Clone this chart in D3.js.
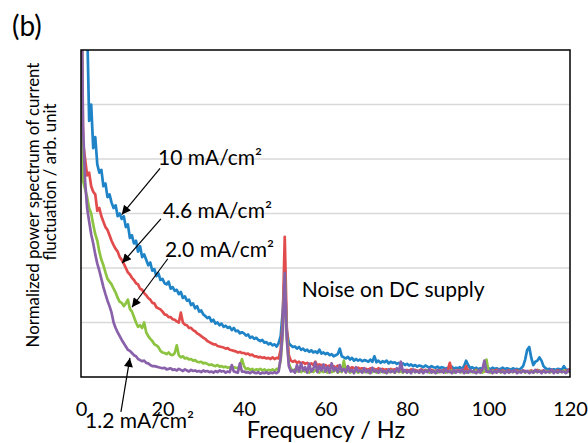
<!DOCTYPE html>
<html>
<head>
<meta charset="utf-8">
<script src="https://cdn.jsdelivr.net/npm/d3@7/dist/d3.min.js"></script>
<style>
  body { margin: 0; background: #fff; }
  text { font-family: Lato, "Open Sans", sans-serif; fill: #000; }
</style>
</head>
<body>
<div id="chart"></div>
<script>
// frequency bins, 0.5 Hz step from 0 to 120 Hz
const freqs = d3.range(0, 120.25, 0.5);
const xTicks = [0, 20, 40, 60, 80, 100, 120];

// 10 mA/cm2
const p10 = [
  9, 8, 7.5, 6.5, 4.7, 5.0, 4.2, 4.4, 3.9, 3.75, 3.8, 3.5, 3.55, 3.3, 3.35, 3.2, 3.1, 3.15, 2.95, 3.0,
  2.9, 2.95, 2.75, 2.8, 2.55, 2.6, 2.45, 2.5, 2.3, 2.4, 2.2, 2.25, 2.15, 2.05, 2.1, 1.95, 1.98, 1.85, 1.9, 1.78,
  1.8, 1.72, 1.7, 1.75, 1.62, 1.65, 1.58, 1.6, 1.52, 1.56, 1.45, 1.48, 1.4, 1.42, 1.32, 1.35, 1.26, 1.3, 1.2, 1.22,
  1.15, 1.12, 1.08, 1.1, 1.02, 1.05, 0.98, 1.0, 0.95, 0.98, 0.92, 0.94, 0.9, 0.92, 0.86, 0.9, 0.84, 0.85, 0.8, 0.82,
  0.8, 0.76, 0.78, 0.72, 0.74, 0.7, 0.72, 0.68, 0.66, 0.68, 0.63, 0.64, 0.6, 0.62, 0.58, 0.6, 0.56, 0.62, 0.75, 1.2,
  1.85, 0.85, 0.62, 0.58, 0.55, 0.56, 0.52, 0.55, 0.5, 0.52, 0.48, 0.5, 0.46, 0.49, 0.45, 0.47, 0.44, 0.5, 0.43, 0.45,
  0.42, 0.44, 0.4, 0.42, 0.38, 0.4, 0.42, 0.52, 0.38, 0.36, 0.34, 0.37, 0.32, 0.35, 0.3, 0.33, 0.3, 0.32, 0.29, 0.31,
  0.3, 0.28, 0.32, 0.28, 0.38, 0.27, 0.3, 0.26, 0.29, 0.27, 0.3, 0.25, 0.28, 0.26, 0.27, 0.24, 0.26, 0.23, 0.25, 0.22,
  0.24, 0.21, 0.23, 0.2, 0.22, 0.19, 0.21, 0.2, 0.18, 0.21, 0.19, 0.17, 0.2, 0.18, 0.17, 0.19, 0.16, 0.18, 0.17, 0.15,
  0.17, 0.16, 0.19, 0.15, 0.17, 0.16, 0.18, 0.15, 0.2, 0.3, 0.22, 0.16, 0.18, 0.15, 0.17, 0.14, 0.16, 0.15, 0.22, 0.15,
  0.16, 0.14, 0.17, 0.15, 0.16, 0.14, 0.15, 0.17, 0.14, 0.16, 0.15, 0.13, 0.16, 0.14, 0.15, 0.13, 0.16, 0.2, 0.32, 0.5,
  0.55, 0.35, 0.22, 0.28, 0.3, 0.36, 0.3, 0.2, 0.16, 0.14, 0.15, 0.13, 0.14, 0.13, 0.15, 0.14, 0.13, 0.2, 0.14, 0.13, 0.14
];

// 4.6 mA/cm2
const p46 = [
  8, 4.3, 4.0, 3.7, 3.75, 3.5, 3.4, 3.35, 3.05, 3.1, 2.95, 2.85, 2.75, 2.7, 2.6, 2.5, 2.42, 2.35, 2.3, 2.2,
  2.15, 2.08, 2.0, 1.92, 1.88, 1.82, 1.78, 1.72, 1.7, 1.62, 1.6, 1.54, 1.5, 1.45, 1.42, 1.36, 1.35, 1.28, 1.26, 1.24,
  1.2, 1.15, 1.14, 1.1, 1.1, 1.06, 1.05, 1.02, 1.0, 1.18, 1.0, 0.96, 0.95, 0.9, 0.9, 0.86, 0.84, 0.8, 0.78, 0.75,
  0.72, 0.7, 0.66, 0.64, 0.62, 0.6, 0.6, 0.57, 0.56, 0.55, 0.54, 0.52, 0.53, 0.5, 0.49, 0.48, 0.47, 0.45, 0.46, 0.44,
  0.44, 0.42, 0.43, 0.4, 0.41, 0.38, 0.38, 0.36, 0.37, 0.35, 0.36, 0.34, 0.35, 0.33, 0.36, 0.33, 0.35, 0.34, 0.5, 1.0,
  2.57, 0.9, 0.4, 0.3, 0.28, 0.3, 0.26, 0.28, 0.25, 0.27, 0.24, 0.26, 0.23, 0.25, 0.22, 0.28, 0.21, 0.23, 0.22, 0.2,
  0.22, 0.19, 0.21, 0.18, 0.2, 0.17, 0.21, 0.18, 0.17, 0.2, 0.16, 0.19, 0.15, 0.18, 0.16, 0.14, 0.17, 0.15, 0.16, 0.14,
  0.15, 0.13, 0.16, 0.14, 0.15, 0.13, 0.16, 0.12, 0.15, 0.13, 0.14, 0.12, 0.15, 0.13, 0.14, 0.12, 0.14, 0.12, 0.13, 0.11,
  0.13, 0.11, 0.14, 0.12, 0.13, 0.11, 0.12, 0.14, 0.11, 0.13, 0.12, 0.1, 0.13, 0.11, 0.12, 0.1, 0.12, 0.11, 0.13, 0.1,
  0.12, 0.26, 0.11, 0.12, 0.1, 0.13, 0.11, 0.12, 0.1, 0.2, 0.11, 0.12, 0.1, 0.11, 0.13, 0.1, 0.12, 0.11, 0.1, 0.12,
  0.11, 0.1, 0.12, 0.11, 0.13, 0.1, 0.11, 0.12, 0.1, 0.11, 0.12, 0.1, 0.11, 0.1, 0.12, 0.11, 0.1, 0.12, 0.11, 0.1,
  0.11, 0.12, 0.1, 0.11, 0.13, 0.1, 0.11, 0.12, 0.1, 0.11, 0.1, 0.12, 0.11, 0.1, 0.12, 0.11, 0.1, 0.11, 0.12, 0.1, 0.15
];

// 2.0 mA/cm2
const p20 = [
  8, 3.6, 3.45, 3.3, 3.1, 3.0, 2.8, 2.62, 2.5, 2.3, 2.15, 2.05, 1.92, 1.8, 1.75, 1.7, 1.62, 1.55, 1.45, 1.38,
  1.36, 1.3, 1.35, 1.42, 1.25, 1.2, 1.1, 1.0, 0.92, 0.95, 0.9, 1.0, 0.82, 0.75, 0.7, 0.66, 0.6, 0.58, 0.55, 0.48,
  0.45, 0.44, 0.42, 0.45, 0.41, 0.4, 0.44, 0.58, 0.4, 0.36, 0.38, 0.34, 0.35, 0.32, 0.33, 0.3, 0.31, 0.28, 0.27, 0.28,
  0.25, 0.26, 0.24, 0.22, 0.23, 0.21, 0.2, 0.22, 0.19, 0.2, 0.18, 0.19, 0.17, 0.18, 0.16, 0.18, 0.17, 0.16, 0.2, 0.33,
  0.2, 0.14, 0.16, 0.13, 0.15, 0.12, 0.14, 0.13, 0.15, 0.12, 0.14, 0.11, 0.13, 0.12, 0.14, 0.11, 0.15, 0.14, 0.3, 0.8,
  1.9, 0.75, 0.25, 0.15, 0.12, 0.14, 0.1, 0.13, 0.09, 0.12, 0.1, 0.14, 0.08, 0.11, 0.09, 0.13, 0.1, 0.08, 0.12, 0.09,
  0.11, 0.08, 0.12, 0.09, 0.1, 0.14, 0.08, 0.11, 0.09, 0.3, 0.1, 0.12, 0.08, 0.1, 0.09, 0.11, 0.08, 0.1, 0.12, 0.09,
  0.1, 0.08, 0.11, 0.09, 0.12, 0.08, 0.1, 0.09, 0.11, 0.08, 0.1, 0.09, 0.12, 0.1, 0.08, 0.11, 0.09, 0.1, 0.08, 0.11,
  0.09, 0.1, 0.08, 0.12, 0.09, 0.1, 0.08, 0.11, 0.09, 0.1, 0.12, 0.08, 0.1, 0.09, 0.11, 0.08, 0.1, 0.09, 0.11, 0.08,
  0.1, 0.09, 0.12, 0.08, 0.1, 0.11, 0.09, 0.09, 0.1, 0.08, 0.11, 0.09, 0.1, 0.08, 0.12, 0.09, 0.1, 0.08, 0.11, 0.32,
  0.1, 0.08, 0.11, 0.09, 0.1, 0.12, 0.08, 0.1, 0.09, 0.11, 0.08, 0.1, 0.09, 0.12, 0.08, 0.1, 0.09, 0.11, 0.08, 0.1,
  0.09, 0.11, 0.08, 0.1, 0.09, 0.12, 0.08, 0.1, 0.09, 0.11, 0.08, 0.1, 0.09, 0.11, 0.08, 0.1, 0.09, 0.12, 0.08, 0.1, 0.09
];

// 1.2 mA/cm2
const p12 = [
  8, 4.6, 3.6, 3.1, 2.85, 2.62, 2.45, 2.25, 2.08, 1.95, 1.8, 1.65, 1.52, 1.4, 1.3, 1.18, 1.0, 0.9, 0.82, 0.75,
  0.68, 0.62, 0.56, 0.5, 0.48, 0.44, 0.4, 0.38, 0.33, 0.31, 0.29, 0.3, 0.26, 0.25, 0.22, 0.2, 0.2, 0.19, 0.18, 0.17,
  0.16, 0.17, 0.14, 0.15, 0.16, 0.13, 0.14, 0.12, 0.15, 0.13, 0.11, 0.14, 0.12, 0.1, 0.13, 0.11, 0.12, 0.1, 0.11, 0.09,
  0.12, 0.1, 0.11, 0.09, 0.1, 0.08, 0.11, 0.09, 0.12, 0.1, 0.11, 0.08, 0.1, 0.09, 0.22, 0.1, 0.09, 0.08, 0.25, 0.1,
  0.1, 0.08, 0.09, 0.07, 0.1, 0.08, 0.07, 0.09, 0.06, 0.08, 0.07, 0.09, 0.06, 0.08, 0.07, 0.09, 0.07, 0.1, 0.35, 0.85,
  1.91, 0.7, 0.2, 0.1, 0.12, 0.08, 0.22, 0.1, 0.25, 0.12, 0.18, 0.08, 0.24, 0.1, 0.15, 0.27, 0.09, 0.2, 0.12, 0.23,
  0.1, 0.19, 0.08, 0.25, 0.12, 0.17, 0.09, 0.22, 0.11, 0.15, 0.08, 0.2, 0.1, 0.13, 0.07, 0.18, 0.1, 0.12, 0.08, 0.16,
  0.09, 0.13, 0.07, 0.17, 0.1, 0.12, 0.08, 0.15, 0.09, 0.11, 0.07, 0.14, 0.09, 0.12, 0.08, 0.16, 0.1, 0.28, 0.09, 0.13,
  0.08, 0.12, 0.07, 0.14, 0.09, 0.11, 0.08, 0.13, 0.07, 0.12, 0.09, 0.15, 0.08, 0.11, 0.07, 0.13, 0.09, 0.12, 0.08, 0.14,
  0.09, 0.11, 0.07, 0.13, 0.08, 0.12, 0.09, 0.14, 0.07, 0.11, 0.08, 0.13, 0.09, 0.1, 0.07, 0.12, 0.08, 0.14, 0.3, 0.1,
  0.09, 0.12, 0.07, 0.11, 0.08, 0.13, 0.09, 0.1, 0.07, 0.12, 0.08, 0.11, 0.09, 0.13, 0.07, 0.1, 0.08, 0.12, 0.09, 0.11,
  0.07, 0.1, 0.08, 0.13, 0.09, 0.11, 0.07, 0.12, 0.08, 0.1, 0.09, 0.14, 0.07, 0.11, 0.08, 0.12, 0.09, 0.1, 0.07, 0.11, 0.1
];

const seriesNames = ["10 mA/cm²", "4.6 mA/cm²", "2.0 mA/cm²", "1.2 mA/cm²"];
const seriesColors = ["#1f83c7", "#e24b4b", "#8cc441", "#8961aa"];
const seriesValues = [p10, p46, p20, p12];

// annotation: label position and arrow (start -> tip) in data units
const labelPos = [[18.9, 3.89], [20.1, 2.92], [20.6, 2.2], [1.0, -0.94]];
const arrowFrom = [[19.4, 3.83], [19.6, 2.9], [21.3, 2.17], [9.8, -0.64]];
const arrowTo = [[10.0, 2.98], [10.1, 2.09], [12.5, 1.28], [12.0, 0.35]];

const W = 588, H = 443;
const m = { left: 81, right: 18, top: 50, bottom: 66 };

const svg = d3.select("#chart").append("svg")
  .attr("width", W).attr("height", H);

const x = d3.scaleLinear().domain([0, 120]).range([m.left, W - m.right]);
const y = d3.scaleLinear().domain([0, 6]).range([H - m.bottom, m.top]);

svg.append("defs").append("clipPath").attr("id", "plotclip")
  .append("rect")
  .attr("x", x(0)).attr("y", y(6))
  .attr("width", x(120) - x(0)).attr("height", y(0) - y(6));

svg.select("defs").append("marker")
  .attr("id", "arrowhead")
  .attr("viewBox", "0 0 10 10")
  .attr("refX", 10).attr("refY", 5)
  .attr("markerWidth", 11).attr("markerHeight", 9)
  .attr("markerUnits", "userSpaceOnUse")
  .attr("orient", "auto")
  .append("path").attr("d", "M0,0 L10,5 L0,10 z").attr("fill", "#000");

// gridlines
svg.append("g").selectAll("line")
  .data([1, 2, 3, 4, 5])
  .join("line")
  .attr("x1", x(0)).attr("x2", x(120))
  .attr("y1", d => y(d)).attr("y2", d => y(d))
  .attr("stroke", "#d9d9d9").attr("stroke-width", 1.5);

// series
const line = d3.line()
  .x((d, i) => x(freqs[i]))
  .y(d => y(d));

svg.append("g").attr("clip-path", "url(#plotclip)")
  .selectAll("path")
  .data(seriesValues)
  .join("path")
  .attr("d", d => line(d))
  .attr("fill", "none")
  .attr("stroke", (d, i) => seriesColors[i])
  .attr("stroke-width", 2.7)
  .attr("stroke-linejoin", "round");

// frame
svg.append("rect")
  .attr("x", x(0)).attr("y", y(6))
  .attr("width", x(120) - x(0)).attr("height", y(0) - y(6))
  .attr("fill", "none").attr("stroke", "#000").attr("stroke-width", 1.5);

// x axis labels
const xAxis = svg.append("g")
  .attr("transform", `translate(0,${y(0)})`)
  .call(d3.axisBottom(x).tickValues(xTicks).tickSize(0).tickFormat(d3.format("d")));
xAxis.select(".domain").remove();
xAxis.selectAll("text")
  .attr("y", 39).attr("dy", 0)
  .style("font-family", "Lato, sans-serif")
  .style("font-size", "20px")
  .attr("fill", "#000");

svg.append("text")
  .attr("x", 326).attr("y", 438)
  .attr("text-anchor", "middle")
  .style("font-size", "23.5px")
  .text("Frequency  / Hz");

// y title
svg.append("text")
  .attr("transform", "translate(39,205) rotate(-90)")
  .attr("text-anchor", "middle")
  .style("font-size", "16.8px")
  .text("Normalized power spectrum of current");
svg.append("text")
  .attr("transform", "translate(56,182) rotate(-90)")
  .attr("text-anchor", "middle")
  .style("font-size", "16.8px")
  .text("fluctuation / arb. unit");

// panel tag
svg.append("text")
  .attr("x", 12).attr("y", 36)
  .style("font-size", "28px")
  .text("(b)");

// annotations
svg.append("g").selectAll("line")
  .data(arrowFrom)
  .join("line")
  .attr("x1", d => x(d[0])).attr("y1", d => y(d[1]))
  .attr("x2", (d, i) => x(arrowTo[i][0])).attr("y2", (d, i) => y(arrowTo[i][1]))
  .attr("stroke", "#000").attr("stroke-width", 1.2)
  .attr("marker-end", "url(#arrowhead)");

svg.append("g").selectAll("text")
  .data(seriesNames)
  .join("text")
  .attr("x", (d, i) => x(labelPos[i][0]))
  .attr("y", (d, i) => y(labelPos[i][1]))
  .style("font-size", "21px")
  .text(d => d);

svg.append("text")
  .attr("x", x(54.2)).attr("y", y(1.47))
  .style("font-size", "21px")
  .text("Noise on DC supply");
</script>
</body>
</html>
